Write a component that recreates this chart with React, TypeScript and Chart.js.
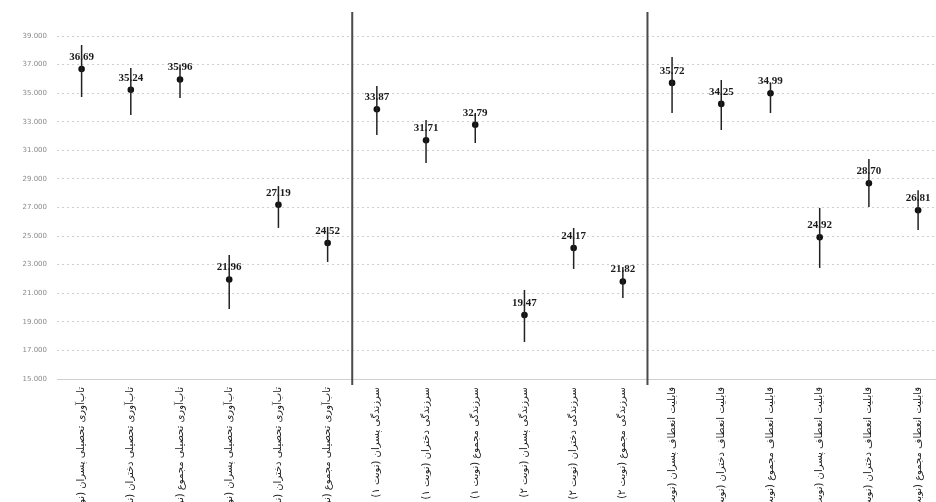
import React, { useEffect, useRef } from 'react';
import { Chart, registerables } from 'chart.js';

Chart.register(...registerables);

const categories = [
  'تاب‌آوری تحصیلی پسران (نوبت ۱)',
  'تاب‌آوری تحصیلی دختران (نوبت ۱)',
  'تاب‌آوری تحصیلی مجموع (نوبت ۱)',
  'تاب‌آوری تحصیلی پسران (نوبت ۲)',
  'تاب‌آوری تحصیلی دختران (نوبت ۲)',
  'تاب‌آوری تحصیلی مجموع (نوبت ۲)',
  'سرزندگی پسران (نوبت ۱)',
  'سرزندگی دختران (نوبت ۱)',
  'سرزندگی مجموع (نوبت ۱)',
  'سرزندگی پسران (نوبت ۲)',
  'سرزندگی دختران (نوبت ۲)',
  'سرزندگی مجموع (نوبت ۲)',
  'قابلیت انعطاف پسران (نوبت ۱)',
  'قابلیت انعطاف دختران (نوبت ۱)',
  'قابلیت انعطاف مجموع (نوبت ۱)',
  'قابلیت انعطاف پسران (نوبت ۲)',
  'قابلیت انعطاف دختران (نوبت ۲)',
  'قابلیت انعطاف مجموع (نوبت ۲)',
];

const means = [36.69, 35.24, 35.96, 21.96, 27.19, 24.52, 33.87, 31.71, 32.79, 19.47, 24.17, 21.82, 35.72, 34.25, 34.99, 24.92, 28.7, 26.81];
const upper = [38.37, 36.76, 37.0, 23.68, 28.5, 25.64, 35.5, 33.12, 33.61, 21.23, 25.57, 22.84, 37.53, 35.92, 35.71, 26.97, 30.4, 28.2];
const lower = [34.73, 33.47, 34.66, 19.9, 25.57, 23.19, 32.07, 30.12, 31.52, 17.59, 22.7, 20.67, 33.61, 32.42, 33.61, 22.77, 27.04, 25.43];

const groupBreaks = [6, 12];

const Y_MIN = 15;
const Y_MAX = 39;
const Y_STEP = 2;

const errorBarPlugin = {
  id: 'errorBars',
  afterDatasetsDraw(chart: any) {
    const { ctx, chartArea } = chart;
    const xs = chart.scales.x;
    const ys = chart.scales.y;
    ctx.save();
    ctx.font = 'bold 11px "Liberation Serif", "DejaVu Serif", serif';
    ctx.fillStyle = '#1a1a1a';
    ctx.textAlign = 'center';
    ctx.textBaseline = 'middle';
    means.forEach((m, i) => {
      const x = xs.getPixelForValue(i);
      const y = ys.getPixelForValue(m);
      ctx.fillText(m.toFixed(2), x, y - 12);
    });
    ctx.strokeStyle = '#222';
    ctx.lineWidth = 1.5;
    means.forEach((m, i) => {
      const x = xs.getPixelForValue(i);
      ctx.beginPath();
      ctx.moveTo(x, ys.getPixelForValue(upper[i]));
      ctx.lineTo(x, ys.getPixelForValue(lower[i]));
      ctx.stroke();
    });
    ctx.strokeStyle = '#4a4a4a';
    ctx.lineWidth = 2;
    groupBreaks.forEach((b) => {
      const x = (xs.getPixelForTick(b - 1) + xs.getPixelForTick(b)) / 2;
      ctx.beginPath();
      ctx.moveTo(x, chartArea.top - 24);
      ctx.lineTo(x, chartArea.bottom + 6);
      ctx.stroke();
    });
    ctx.restore();
  },
};

export default function App() {
  const ref = useRef<HTMLCanvasElement | null>(null);

  useEffect(() => {
    if (!ref.current) return;
    const chart = new Chart(ref.current, {
      type: 'line',
      data: {
        labels: categories,
        datasets: [
          {
            data: means,
            showLine: false,
            pointRadius: 3.3,
            pointHoverRadius: 3.3,
            pointBackgroundColor: '#111',
            pointBorderColor: '#111',
            pointBorderWidth: 0,
          },
        ],
      },
      options: {
        responsive: false,
        animation: false,
        devicePixelRatio: 1,
        layout: { padding: { top: 36, left: 0, right: 0, bottom: 0 } },
        plugins: {
          legend: { display: false },
          tooltip: { enabled: false },
        },
        scales: {
          x: {
            type: 'category',
            offset: true,
            grid: { display: false, drawTicks: false },
            border: { display: true, color: '#cfcfcf', width: 1 },
            ticks: {
              autoSkip: false,
              minRotation: 90,
              maxRotation: 90,
              padding: 8,
              color: '#1a1a1a',
              font: { family: '"DejaVu Sans", sans-serif', size: 10 },
            },
            afterFit: (scale: any) => {
              scale.height = 123;
            },
          },
          y: {
            min: Y_MIN,
            max: Y_MAX,
            grid: { color: '#cfcfcf', lineWidth: 1, drawTicks: false },
            border: { display: false, dash: [2, 3] },
            ticks: {
              stepSize: Y_STEP,
              padding: 10,
              color: '#8a8a8a',
              font: { family: '"DejaVu Sans", sans-serif', size: 7 },
              callback: (v: any) => Number(v).toFixed(3),
            },
            afterFit: (scale: any) => {
              scale.width = 57;
            },
          },
        },
      },
      plugins: [errorBarPlugin],
    });
    return () => chart.destroy();
  }, []);

  return (
    <div
      style={{
        position: 'fixed',
        left: 0,
        top: 0,
        width: 936,
        height: 502,
        overflow: 'hidden',
        background: '#fff',
      }}
    >
      <canvas ref={ref} width={946} height={502} style={{ display: 'block' }} />
    </div>
  );
}
